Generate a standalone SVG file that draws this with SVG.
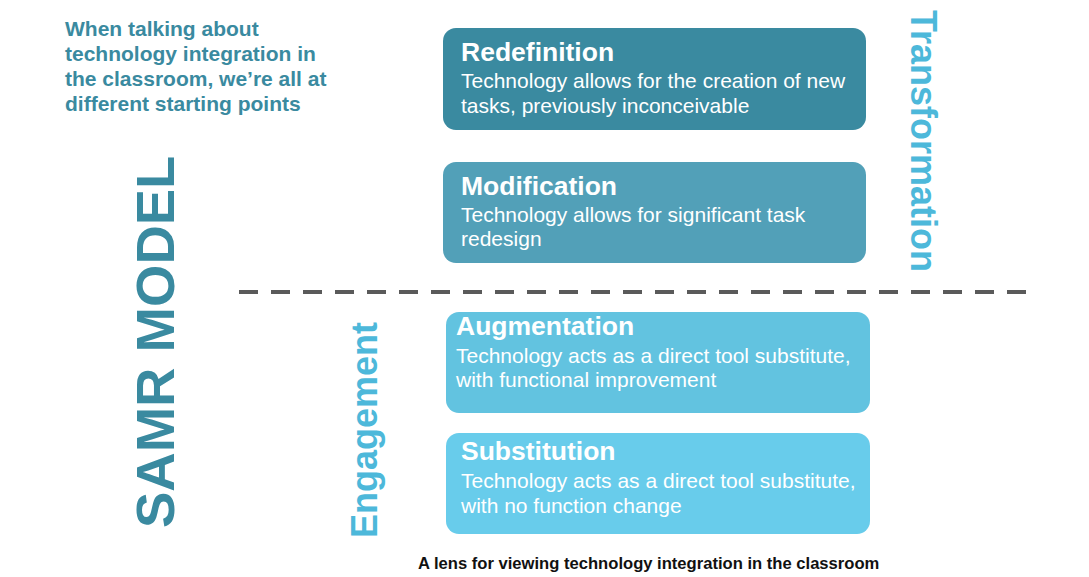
<svg xmlns="http://www.w3.org/2000/svg" width="1089" height="577" viewBox="0 0 1089 577">
<style>
.box{stroke:none}
.ttl{font-family:"Liberation Sans",Arial,sans-serif;font-weight:bold;font-size:26.5px;fill:#ffffff}
.bdy{font-family:"Liberation Sans",Arial,sans-serif;font-size:21px;fill:#ffffff}
.intro{font-family:"Liberation Sans",Arial,sans-serif;font-weight:bold;font-size:21px;fill:#3a8aa0}
.side{font-family:"Liberation Sans",Arial,sans-serif;font-weight:bold;font-size:36px;fill:#4db8da}
.samr{font-family:"Liberation Sans",Arial,sans-serif;font-weight:bold;font-size:54.5px;fill:#3a8aa0}
.cap{font-family:"Liberation Sans",Arial,sans-serif;font-weight:bold;font-size:16.6px;fill:#111111}
</style>
<rect width="1089" height="577" fill="#ffffff"/>
<g id="intro">
<text class="intro" x="65" y="36">When talking about</text>
<text class="intro" x="65" y="61">technology integration in</text>
<text class="intro" x="65" y="86">the classroom, we’re all at</text>
<text class="intro" x="65" y="111">different starting points</text>
</g>
<g id="samr-title">
<text class="samr" transform="translate(174,528) rotate(-90)">SAMR MODEL</text>
</g>
<g id="engagement-label">
<text class="side" transform="translate(377,538) rotate(-90)">Engagement</text>
</g>
<g id="transformation-label">
<text class="side" transform="translate(911,10) rotate(90)">Transformation</text>
</g>
<g id="connectors">
<line x1="239" y1="292" x2="1026" y2="292" stroke="#5a5a5a" stroke-width="4.2" stroke-dasharray="19 13"/>
</g>
<g id="redefinition">
<rect class="box" x="443" y="28" width="423" height="102" rx="13" fill="#3a8aa0"/>
<text class="ttl" x="461" y="61">Redefinition</text>
<text class="bdy" x="461" y="88">Technology allows for the creation of new</text>
<text class="bdy" x="461" y="113">tasks, previously inconceivable</text>
</g>
<g id="modification">
<rect class="box" x="443" y="162" width="423" height="101" rx="13" fill="#52a0b8"/>
<text class="ttl" x="461" y="195">Modification</text>
<text class="bdy" x="461" y="222">Technology allows for significant task</text>
<text class="bdy" x="461" y="246">redesign</text>
</g>
<g id="augmentation">
<rect class="box" x="446" y="312" width="424" height="101" rx="13" fill="#62c3e0"/>
<text class="ttl" x="456" y="335">Augmentation</text>
<text class="bdy" x="456" y="363">Technology acts as a direct tool substitute,</text>
<text class="bdy" x="456" y="387">with functional improvement</text>
</g>
<g id="substitution">
<rect class="box" x="446" y="433" width="424" height="101" rx="13" fill="#68cceb"/>
<text class="ttl" x="461" y="460">Substitution</text>
<text class="bdy" x="461" y="488">Technology acts as a direct tool substitute,</text>
<text class="bdy" x="461" y="513">with no function change</text>
</g>
<g id="caption">
<text class="cap" x="418" y="569">A lens for viewing technology integration in the classroom</text>
</g>
</svg>
